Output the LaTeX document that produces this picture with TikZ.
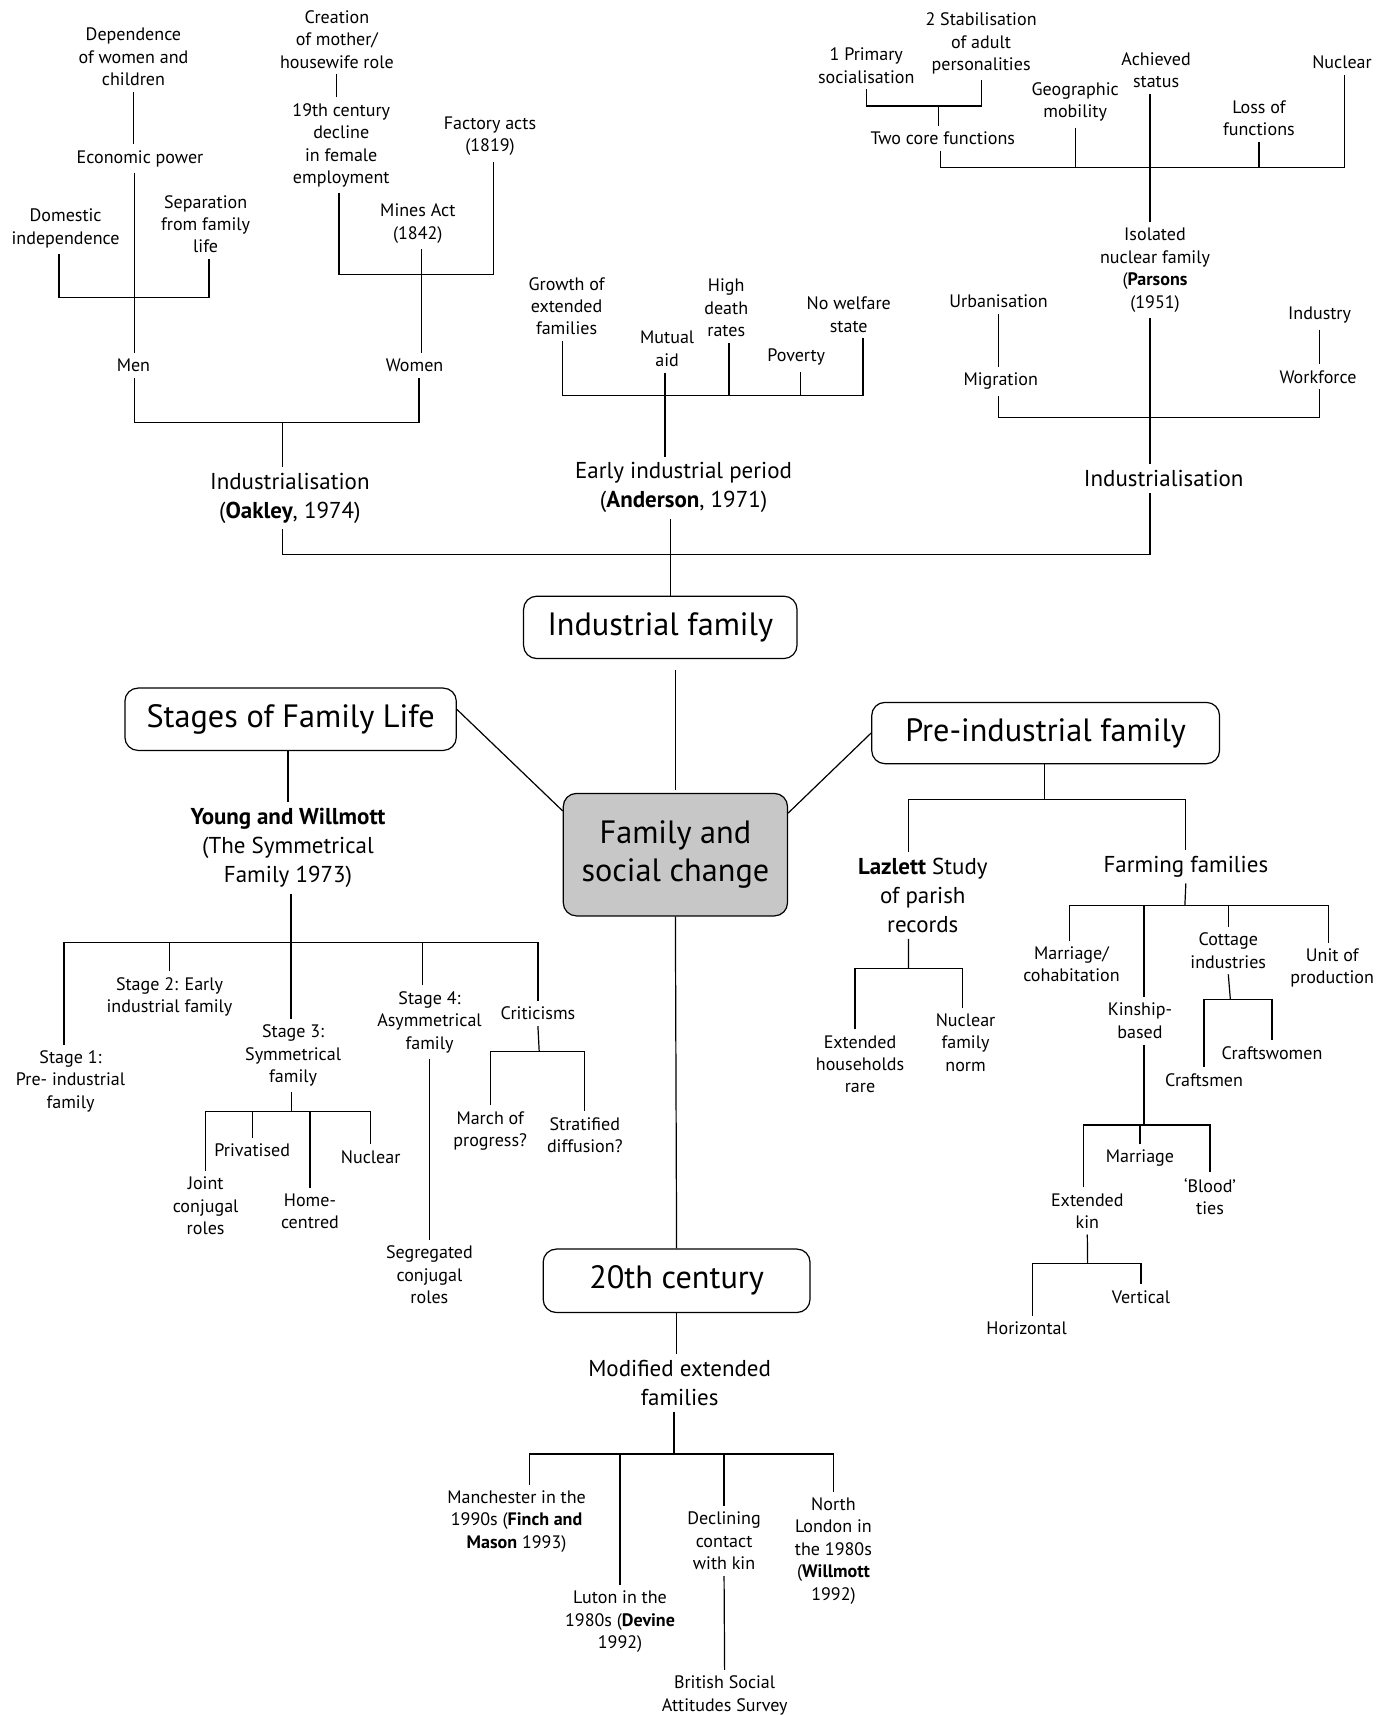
\documentclass[tikz,border=0pt]{standalone}
\usepackage{fontspec}
\setmainfont{PT Sans}
\begin{document}
\begin{tikzpicture}[x=1pt,y=-1pt,line width=1.1pt,
  lbl/.style={align=center,inner xsep=2pt,inner ysep=5pt,font=\fontsize{16.5}{20.5}\selectfont},
  mid/.style={align=center,inner xsep=2pt,inner ysep=5pt,font=\fontsize{21}{26.5}\selectfont},
  topic/.style={draw,rounded corners=12pt,inner sep=0pt,align=center,font=\fontsize{29.5}{35}\selectfont}]
\useasboundingbox (0,0) rectangle (1270,1568);

% centre boxes
\node[topic,fill=black!22,minimum width=205pt,minimum height=112pt] (famsoc) at (617.5,781.4) {Family and\\social change};
\node[topic,minimum width=250pt,minimum height=57pt] (indfam) at (603.7,573.6) {Industrial family};
\node[topic,minimum width=303pt,minimum height=57pt] (stages) at (265.7,657.6) {Stages of Family Life};
\node[topic,minimum width=318pt,minimum height=56pt] (preind) at (956,670.2) {Pre-industrial family};
\node[topic,minimum width=244pt,minimum height=58pt] (cent) at (618.6,1171) {20th century};

% Oakley
\node[lbl] (dep)   at (122,52)    {Dependence\\of women and\\children};
\node[lbl] (econ)  at (128,145)   {Economic power};
\node[lbl] (dom)   at (60,209)    {Domestic\\independence};
\node[lbl] (sep)   at (188,205)   {Separation\\from family\\life};
\node[lbl] (men)   at (122,334)   {Men};
\node[lbl] (crea)  at (308,36)    {Creation\\of mother/\\housewife role};
\node[lbl] (decl)  at (312,133)   {19th century\\decline\\in female\\employment};
\node[lbl] (fact)  at (448,124.5) {Factory acts\\(1819)};
\node[lbl] (mines) at (382,204.5) {Mines Act\\(1842)};
\node[lbl] (women) at (379,334)   {Women};
\node[mid] (oak)   at (265,455.5) {Industrialisation\\(\textbf{Oakley}, 1974)};

% Anderson
\node[lbl] (growth) at (518,280)   {Growth of\\extended\\families};
\node[lbl] (mutual) at (610,319)   {Mutual\\aid};
\node[lbl] (death)  at (664,281.5) {High\\death\\rates};
\node[lbl] (nowel)  at (776,287.7) {No welfare\\state};
\node[lbl] (pov)    at (728,326.6) {Poverty};
\node[mid] (and)    at (625,446)   {Early industrial period\\(\textbf{Anderson}, 1971)};

% Parsons
\node[lbl] (prim) at (792,60)    {1 Primary\\socialisation};
\node[lbl] (stab) at (897,40)    {2 Stabilisation\\of adult\\personalities};
\node[lbl] (core) at (862,126.4) {Two core functions};
\node[lbl] (geo)  at (983,93.4)  {Geographic\\mobility};
\node[lbl] (ach)  at (1057,64.2) {Achieved\\status};
\node[lbl] (loss) at (1151,108)  {Loss of\\functions};
\node[lbl] (nucl) at (1227,57)   {Nuclear};
\node[lbl] (iso)  at (1056,247)  {Isolated\\nuclear family\\(\textbf{Parsons}\\(1951)};
\node[lbl] (urb)  at (913,275.3) {Urbanisation};
\node[lbl] (migr) at (915,348.5) {Migration};
\node[lbl] (ind)  at (1206.5,288.4) {Industry};
\node[lbl] (work) at (1205,344.5) {Workforce};
\node[mid] (indr) at (1064,437.6) {Industrialisation};

% Young and Willmott
\node[mid] (yw)    at (263.3,775.5) {\textbf{Young and Willmott}\\(The Symmetrical\\Family 1973)};
\node[lbl] (st1)   at (64.5,988.7)  {Stage 1:\\Pre- industrial\\family};
\node[lbl] (st2)   at (155,911.4)   {Stage 2: Early\\industrial family};
\node[lbl] (st3)   at (268,965)     {Stage 3:\\Symmetrical\\family};
\node[lbl] (st4)   at (392.7,934.5) {Stage 4:\\Asymmetrical\\family};
\node[lbl] (crit)  at (491.8,926.6) {Criticisms};
\node[lbl] (march) at (448.2,1034)  {March of\\progress?};
\node[lbl] (strat) at (534.7,1037.7) {Stratified\\diffusion?};
\node[lbl] (joint) at (188,1102.5)  {Joint\\conjugal\\roles};
\node[lbl] (priv)  at (230.6,1051.5) {Privatised};
\node[lbl] (home)  at (283.4,1107.5) {Home-\\centred};
\node[lbl] (nuc3)  at (338.9,1057.6) {Nuclear};
\node[lbl] (segr)  at (392.6,1165.7) {Segregated\\conjugal\\roles};

% 20th century
\node[mid] (mod)   at (621.4,1264.3) {Modified extended\\families};
\node[lbl] (manc)  at (472.3,1391)   {Manchester in the\\1990s (\textbf{Finch and}\\\textbf{Mason} 1993)};
\node[lbl] (luton) at (566.9,1482.7) {Luton in the\\1980s (\textbf{Devine}\\1992)};
\node[lbl] (declk) at (662,1409)     {Declining\\contact\\with kin};
\node[lbl] (bsas)  at (662.5,1550)   {British Social\\Attitudes Survey};
\node[lbl] (north) at (762,1418)     {North\\London in\\the 1980s\\(\textbf{Willmott}\\1992)};

% pre-industrial
\node[mid] (laz)   at (843.7,818.7) {\textbf{Lazlett} Study\\of parish\\records};
\node[lbl] (ext)   at (786.3,973)   {Extended\\households\\rare};
\node[lbl] (nfn)   at (882.8,953.3) {Nuclear\\family\\norm};
\node[mid] (farm)  at (1084.2,792.5) {Farming families};
\node[lbl] (marr)  at (979.6,881.7) {Marriage/\\cohabitation};
\node[lbl] (kin)   at (1042.3,933.3) {Kinship-\\based};
\node[lbl] (cott)  at (1123,869)    {Cottage\\industries};
\node[lbl] (unit)  at (1218,885.2)  {Unit of\\production};
\node[lbl] (crw)   at (1163,962.7)  {Craftswomen};
\node[lbl] (crm)   at (1100.8,987.2) {Craftsmen};
\node[lbl] (marg)  at (1042.3,1059.1) {Marriage};
\node[lbl] (blood) at (1106.3,1093.9) {‘Blood’\\ties};
\node[lbl] (extk)  at (994.1,1107.1) {Extended\\kin};
\node[lbl] (vert)  at (1043.2,1185.6) {Vertical};
\node[lbl] (horiz) at (938.7,1214.5) {Horizontal};

% bars
\coordinate (dsbar) at (123,272);
\coordinate (mwbar) at (258,386);
\coordinate (dfbar) at (385.7,250.8);
\coordinate (abar)  at (608,361.5);
\coordinate (cbar)  at (858.4,97);
\coordinate (pbar)  at (1051.5,152.8);
\coordinate (ubar)  at (1051.5,382);
\coordinate (topbar) at (613,507);
\coordinate (ywbar) at (266,862);
\coordinate (critbar) at (493,961.6);
\coordinate (s3bar) at (266.7,1016.4);
\coordinate (mbar)  at (616.3,1329.3);
\coordinate (pibar) at (955,731);
\coordinate (lbar)  at (830.6,885.3);
\coordinate (fbar)  at (1083.3,828);
\coordinate (kx)    at (1045.9,0);
\coordinate (cobar) at (1124.9,913.7);
\coordinate (kbar)  at (1045.9,1028.6);
\coordinate (ebar)  at (994.4,1155);

% Oakley
\draw (dep.south) -- (dep.south |- econ.north);
\draw (econ.south -| dsbar) -- (men.north -| dsbar);
\draw ([xshift=-6pt]dom.south) |- (dsbar) -| ([xshift=3pt]sep.south);
\draw (men.south -| dsbar) |- (mwbar) -| ([xshift=4pt]women.south);
\draw (mwbar) -- (oak.north -| mwbar);
\draw (crea.south) -- (crea.south |- decl.north);
\draw ([xshift=-2pt]decl.south) |- (dfbar) -| ([xshift=3pt]fact.south);
\draw (mines.south -| dfbar) -- (women.north -| dfbar);

% Anderson
\draw ([xshift=-4pt]growth.south) |- (abar) -| ([xshift=13pt]nowel.south);
\draw ([xshift=2.5pt]death.south) -- ([xshift=2.5pt]death.south |- abar);
\draw ([xshift=4pt]pov.south) -- ([xshift=4pt]pov.south |- abar);
\draw (mutual.south -| abar) -- (and.north -| abar);

% Parsons
\draw (prim.south) |- (cbar) -| (stab.south);
\draw (cbar) -- (core.north -| cbar);
\draw ([xshift=-2pt]core.south) |- (pbar) -| ([xshift=2pt]nucl.south);
\draw (geo.south) -- (geo.south |- pbar);
\draw (loss.south) -- (loss.south |- pbar);
\draw (ach.south -| pbar) -- (iso.north -| pbar);
\draw (urb.south) -- (migr.north -| urb.south);
\draw (migr.south -| urb.south) |- (ubar) -| (work.south -| ind.south);
\draw (ind.south) -- (work.north -| ind.south);
\draw (iso.south -| pbar) -- (indr.north -| pbar);

% into the industrial family
\draw (oak.south -| mwbar) |- (topbar) -| (indr.south -| pbar);
\draw (and.south -| topbar) -- (indfam.north -| topbar);
\draw (indfam.south -| famsoc.north) ++(0,10) -- ([yshift=3pt]famsoc.north);
\draw (famsoc.south) -- (cent.north);
\draw ([yshift=9pt]stages.east) -- ([yshift=40pt]famsoc.west);
\draw ([yshift=38pt]famsoc.east) -- (preind.west);

% Young and Willmott
\draw (stages.south -| yw.north) -- (yw.north);
\draw ([xshift=-6pt]st1.north) |- (ywbar) -| (crit.north);
\draw (st2.north) -- (st2.north |- ywbar);
\draw ([xshift=-6.5pt]st4.north) -- ([xshift=-6.5pt]st4.north |- ywbar);
\draw (yw.south -| ywbar) -- (st3.north -| ywbar);
\draw (crit.south) -- (critbar);
\draw (march.north) |- (critbar) -| (strat.north);
\draw (st3.south -| s3bar) -- (s3bar);
\draw (joint.north) |- (s3bar) -| (nuc3.north);
\draw (priv.north) -- (priv.north |- s3bar);
\draw (home.north) -- (home.north |- s3bar);
\draw (st4.south) -- (st4.south |- segr.north);

% 20th century
\draw (cent.south) -- (cent.south |- mod.north);
\draw (mod.south -| mbar) -- (mbar);
\draw ([xshift=12pt]manc.north) |- (mbar) -| (north.north);
\draw (luton.north) -- (luton.north |- mbar);
\draw (declk.north) -- (declk.north |- mbar);
\draw (declk.south) -- (bsas.north);

% pre-industrial
\draw (preind.south -| pibar) -- (pibar);
\draw ([xshift=-13pt]laz.north) |- (pibar) -| (farm.north);
\draw ([xshift=-13pt]laz.south) -- (lbar);
\draw ([xshift=-4.6pt]ext.north) |- (lbar) -| ([xshift=-3pt]nfn.north);
\draw (farm.south) -- (fbar);
\draw ([xshift=-2pt]marr.north) |- (fbar) -| ([xshift=-3.4pt]unit.north);
\draw (cott.north) -- (cott.north |- fbar);
\draw (fbar -| kx) -- (kin.north -| kx);
\draw (cott.south) -- (cobar);
\draw (crm.north) |- (cobar) -| (crw.north);
\draw (kin.south -| kx) -- (kbar);
\draw ([xshift=-3.6pt]extk.north) |- (kbar) -| (blood.north);
\draw (marg.north) -- (marg.north |- kbar);
\draw (extk.south) -- (ebar);
\draw ([xshift=5pt]horiz.north) |- (ebar) -| (vert.north);
\end{tikzpicture}
\end{document}
